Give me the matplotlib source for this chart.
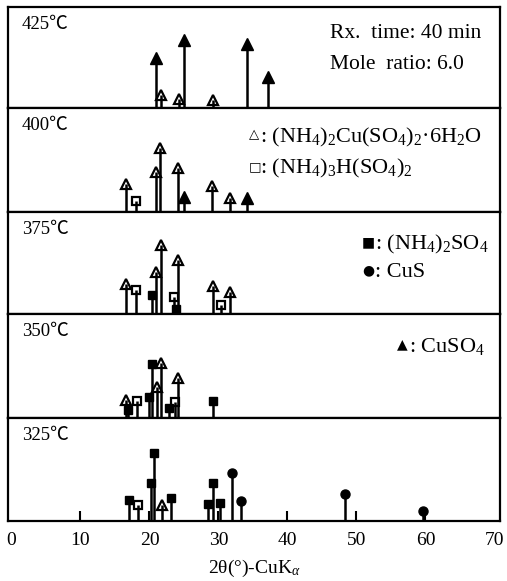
import matplotlib
matplotlib.use("Agg")
import matplotlib.pyplot as plt

plt.rcParams['font.family'] = ['Liberation Serif', 'Noto Sans CJK JP', 'DejaVu Sans']
plt.rcParams['mathtext.fontset'] = 'custom'
plt.rcParams['mathtext.rm'] = 'Liberation Serif'
plt.rcParams['mathtext.it'] = 'Liberation Serif:italic'

# ---- data: 2theta positions and relative intensities (px above baseline) ----
temps = ["425℃", "400℃", "375℃", "350℃", "325℃"]

# 425 C
p425_cuso4_x = [20.9, 25.0, 34.1, 37.2]
p425_cuso4_h = [50, 68, 64, 31]
p425_cuam_x = [21.7, 24.3, 29.2]
p425_cuam_h = [13, 9, 8]

# 400 C
p400_cuam_x = [16.6, 21.0, 21.6, 24.1, 29.1, 31.6]
p400_cuam_h = [28, 40, 64, 44, 26, 14]
p400_amh_x = [18.0]
p400_amh_h = [11]
p400_cuso4_x = [25.0, 34.1]
p400_cuso4_h = [15, 14]

# 375 C
p375_cuam_x = [16.6, 20.9, 21.7, 24.1, 29.2, 31.7]
p375_cuam_h = [30, 42, 69, 54, 28, 22]
p375_amh_x = [18.0, 23.5, 30.4]
p375_amh_h = [24, 17, 9]
p375_as_x = [20.4, 23.9]
p375_as_h = [19, 5]

# 350 C
p350_cuam_x = [16.6, 21.1, 21.7, 24.1]
p350_cuam_h = [18, 31, 55, 40]
p350_amh_x = [18.2, 23.7]
p350_amh_h = [17, 16]
p350_as_x = [16.9, 20.0, 20.4, 22.8, 29.2]
p350_as_h = [8, 21, 54, 10, 17]

# 325 C
p325_as_x = [17.1, 20.2, 20.7, 23.1, 28.5, 29.2, 30.2]
p325_as_h = [21, 38, 68, 23, 17, 38, 18]
p325_amh_x = [18.3]
p325_amh_h = [16]
p325_cuam_x = [21.8]
p325_cuam_h = [16]
p325_cus_x = [32.0, 33.3, 48.3, 59.6]
p325_cus_h = [48, 20, 27, 10]

xticks = [0, 10, 20, 30, 40, 50, 60, 70]

# ---- styles ----
styles = {
    'cuso4': dict(marker='^', ms=8.5, mfc='black', mec='black'),
    'cuam': dict(marker='^', ms=6.5, mfc='none', mec='black', mew=1.6),
    'amh': dict(marker='s', ms=5.5, mfc='none', mec='black', mew=1.6),
    'as': dict(marker='s', ms=6.0, mfc='black', mec='black'),
    'cus': dict(marker='o', ms=6.5, mfc='black', mec='black'),
}

panels = [
    [('cuso4', p425_cuso4_x, p425_cuso4_h), ('cuam', p425_cuam_x, p425_cuam_h)],
    [('cuam', p400_cuam_x, p400_cuam_h), ('amh', p400_amh_x, p400_amh_h),
     ('cuso4', p400_cuso4_x, p400_cuso4_h)],
    [('cuam', p375_cuam_x, p375_cuam_h), ('amh', p375_amh_x, p375_amh_h),
     ('as', p375_as_x, p375_as_h)],
    [('cuam', p350_cuam_x, p350_cuam_h), ('amh', p350_amh_x, p350_amh_h),
     ('as', p350_as_x, p350_as_h)],
    [('as', p325_as_x, p325_as_h), ('amh', p325_amh_x, p325_amh_h),
     ('cuam', p325_cuam_x, p325_cuam_h), ('cus', p325_cus_x, p325_cus_h)],
]

W, H = 507, 581
fig = plt.figure(figsize=(W / 100, H / 100), dpi=100)
bounds = [7, 108, 212, 314, 418, 521]
left, right = 8, 500
axes = []
for i in range(5):
    top, bot = bounds[i], bounds[i + 1]
    ax = fig.add_axes([left / W, 1 - bot / H, (right - left) / W, (bot - top) / H])
    ax.set_xlim(-0.5, 70.8)
    ax.set_ylim(0, bot - top)
    for s in ax.spines.values():
        s.set_linewidth(1.6)
    ax.set_yticks([])
    axes.append(ax)
    for key, xs, hs in panels[i]:
        st = styles[key]
        for x, h in zip(xs, hs):
            ax.plot([x, x], [0, h], color='black', lw=1.8, solid_capstyle='butt', zorder=2)
        ax.plot(xs, hs, ls='none', zorder=3, **st)
    ax.text(0.028, 0.83, temps[i], transform=ax.transAxes, fontsize=13.5,
            ha='left', va='center')
    if i < 4:
        ax.set_xticks([])

# bottom axis
axb = axes[-1]
axb.set_xticks(xticks)
axb.set_xticklabels([str(t) for t in xticks])
axb.tick_params(axis='x', direction='in', length=7, width=1.5, labelsize=14, pad=8)
for t in (axb.xaxis.get_major_ticks()[0], axb.xaxis.get_major_ticks()[-1]):
    t.tick1line.set_visible(False)
axb.set_xlabel(r"2θ(°)-CuK$_\alpha$", fontsize=14, labelpad=6)


def legend_line(ax, x, y, sym, label, symsize=9, gap=8):
    ax.annotate(sym, (x, y), xycoords='axes fraction', xytext=(0, 1.5),
                textcoords='offset points', family='DejaVu Sans',
                fontsize=symsize, va='center', ha='left')
    ax.annotate(": " + label, (x, y), xycoords='axes fraction', xytext=(gap, 0),
                textcoords='offset points', va='center', ha='left', fontsize=16)


# annotations
a = axes[0]
a.text(0.654, 0.74, "Rx.  time: 40 min", transform=a.transAxes, fontsize=15.5, va='center')
a.text(0.654, 0.43, "Mole  ratio: 6.0", transform=a.transAxes, fontsize=15.5, va='center')
legend_line(axes[1], 0.49, 0.72, "△", r"$\mathrm{(NH_4)_2Cu(SO_4)_2{·}6H_2O}$", 9.5, 8)
legend_line(axes[1], 0.49, 0.42, "□", r"$\mathrm{(NH_4)_3H(SO_4)_2}$", 9.5, 8)
legend_line(axes[2], 0.72, 0.68, "■", r"$\mathrm{(NH_4)_2SO_4}$", 10, 9)
legend_line(axes[2], 0.72, 0.41, "●", "CuS", 10, 9)
legend_line(axes[3], 0.79, 0.69, "▲", r"$\mathrm{CuSO_4}$", 10, 9)

fig.savefig("out.png", dpi=100)
